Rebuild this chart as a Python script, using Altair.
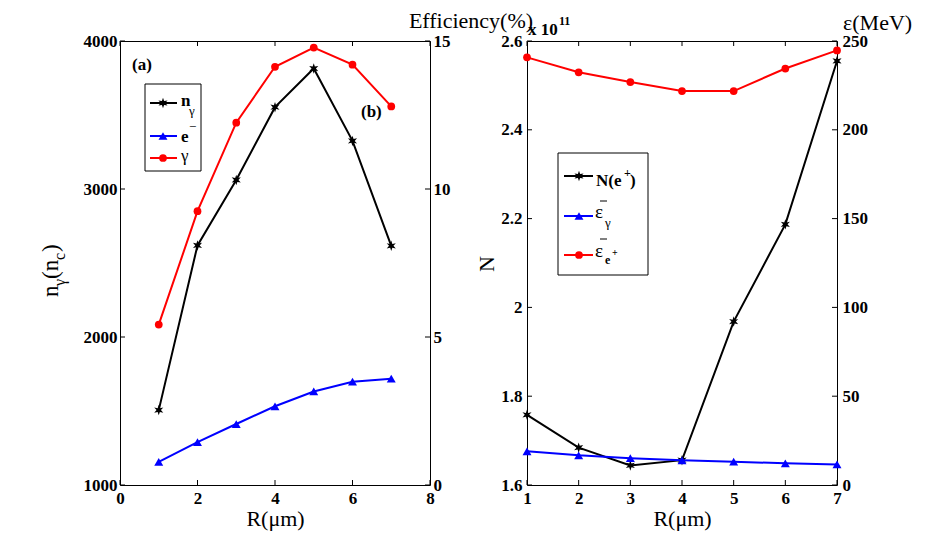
import math
import altair as alt
import pandas as pd

# ---------------- data ----------------
R = [1, 2, 3, 4, 5, 6, 7]
n_gamma = [1506, 2619, 3061, 3553, 3814, 3325, 2616]
eff_e = [0.78, 1.45, 2.06, 2.66, 3.16, 3.49, 3.59]
eff_g = [5.42, 9.25, 12.24, 14.13, 14.78, 14.20, 12.79]
N_pos = [1.758, 1.684, 1.644, 1.656, 1.968, 2.187, 2.555]
E_gamma = [19.0, 16.7, 15.1, 13.9, 13.1, 12.2, 11.6]
E_pos = [240.8, 232.4, 226.9, 221.8, 221.8, 234.5, 244.7]

xa_ticks = [0, 2, 4, 6, 8]
ya_left_ticks = [1000, 2000, 3000, 4000]
ya_right_ticks = [0, 5, 10, 15]
xb_ticks = [1, 2, 3, 4, 5, 6, 7]
yb_left_ticks = [1.6, 1.8, 2.0, 2.2, 2.4, 2.6]
yb_right_ticks = [0, 50, 100, 150, 200, 250]

# ---------------- style ----------------
W, H = 310, 444
FONT = "Liberation Serif"
ONE = alt.Data(values=[{}])

# six-pointed star marker path (filled)
_pts = []
for k in range(12):
    a = math.radians(-90 + 30 * k)
    r = 1.0 if k % 2 == 0 else 0.42
    _pts.append(f"{r * math.cos(a):.3f},{r * math.sin(a):.3f}")
STAR = "M" + "L".join(_pts) + "Z"


def lab_axis(orient, values, fmt, pad):
    return alt.Axis(orient=orient, values=values, format=fmt, title=None, ticks=False,
                    domain=False, grid=False, labelFont=FONT, labelFontWeight="bold",
                    labelFontSize=17, labelColor="black", labelPadding=pad,
                    labelFlush=False, labelOverlap=False, labelBound=False)


def x_axis(values):
    return alt.Axis(orient="bottom", values=values, format="d", title="R(μm)", ticks=False,
                    domain=False, grid=False, labelFont=FONT, labelFontWeight="bold",
                    labelFontSize=17, labelColor="black", labelPadding=5,
                    labelFlush=False, labelOverlap=False, labelBound=False,
                    titleFont=FONT, titleFontSize=22, titleFontWeight="normal",
                    titleColor="black", titlePadding=2)


MARK = {
    "star": dict(shape=STAR, filled=True, size=110, strokeWidth=0),
    "tri": dict(shape="triangle-up", filled=True, size=80, strokeWidth=0),
    "circ": dict(shape="circle", filled=True, size=60, strokeWidth=0),
}


def series(df, xfield, yfield, xscale, yscale, color, marker, xaxis, yaxis):
    line = alt.Chart(df).mark_line(color=color, strokeWidth=2).encode(
        x=alt.X(f"{xfield}:Q", scale=xscale, axis=xaxis),
        y=alt.Y(f"{yfield}:Q", scale=yscale, axis=yaxis),
    )
    pts = alt.Chart(df).mark_point(color=color, opacity=1, **MARK[marker]).encode(
        x=alt.X(f"{xfield}:Q", scale=xscale, axis=xaxis),
        y=alt.Y(f"{yfield}:Q", scale=yscale, axis=yaxis),
    )
    return [line, pts]


def xticks(ticks, xscale, xaxis):
    df = pd.DataFrame({"t": ticks})
    b = alt.Chart(df).mark_rule(color="black", strokeWidth=1).encode(
        x=alt.X("t:Q", scale=xscale, axis=xaxis), y=alt.value(H), y2=alt.value(H - 5))
    t = alt.Chart(df).mark_rule(color="black", strokeWidth=1).encode(
        x=alt.X("t:Q", scale=xscale, axis=xaxis), y=alt.value(0), y2=alt.value(5))
    return [b, t]


def yticks(ticks, yscale, yaxis, side):
    df = pd.DataFrame({"t": ticks})
    x0, x1 = (0, 5) if side == "left" else (W - 5, W)
    return alt.Chart(df).mark_rule(color="black", strokeWidth=1).encode(
        y=alt.Y("t:Q", scale=yscale, axis=yaxis), x=alt.value(x0), x2=alt.value(x1))


def txt(s, x, y, size=17, weight="normal", align="left", baseline="alphabetic", angle=0):
    return alt.Chart(ONE).mark_text(text=s, font=FONT, fontSize=size, fontWeight=weight,
                                    align=align, baseline=baseline, angle=angle,
                                    color="black").encode(x=alt.value(x), y=alt.value(y))


def seg(x0, x1, y, color, w=2):
    return alt.Chart(ONE).mark_rule(color=color, strokeWidth=w).encode(
        x=alt.value(x0), x2=alt.value(x1), y=alt.value(y))


def marker(x, y, color, kind):
    return alt.Chart(ONE).mark_point(color=color, opacity=1, **MARK[kind]).encode(
        x=alt.value(x), y=alt.value(y))


def box(x0, x1, y0, y1):
    return alt.Chart(ONE).mark_rect(fill="white", stroke="black", strokeWidth=1).encode(
        x=alt.value(x0), x2=alt.value(x1), y=alt.value(y0), y2=alt.value(y1))


# ---------------- panel (a) ----------------
dfA = pd.DataFrame({"R": R, "n": n_gamma, "e": eff_e, "g": eff_g})
xsA = alt.Scale(domain=[0, 8], nice=False, zero=False)
ysAL = alt.Scale(domain=[1000, 4000], nice=False, zero=False)
ysAR = alt.Scale(domain=[0, 15], nice=False, zero=False)
xaxA = x_axis(xa_ticks)
yaxAL = lab_axis("left", ya_left_ticks, "d", 3)
yaxAR = lab_axis("right", ya_right_ticks, "d", 3)

leftA = alt.layer(
    *series(dfA, "R", "n", xsA, ysAL, "black", "star", xaxA, yaxAL),
    *xticks(xa_ticks, xsA, xaxA),
    yticks(ya_left_ticks, ysAL, yaxAL, "left"),
    # legend
    box(25, 81, 43, 130),
    seg(30, 57, 62, "black"), marker(43, 62, "black", "star"),
    seg(30, 57, 95, "blue"), marker(43, 95, "blue", "tri"),
    seg(30, 57, 117, "red"), marker(43, 117, "red", "circ"),
    txt("n", 61, 65, 17, "bold"), txt("γ", 69, 74, 13),
    txt("e", 61, 101, 17, "bold"), txt("−", 69, 90, 13),
    txt("γ", 61, 120, 17),
    # labels
    txt("(a)", 12, 29, 17, "bold"),
    txt("(b)", 241, 76, 17, "bold"),
    # y title (rotated, with subscripts)
    txt("n", -62, 256, 23, angle=270), txt("γ", -55, 245, 16, angle=270),
    txt("(n", -62, 238, 23, angle=270), txt("c", -55, 219, 16, angle=270),
    txt(")", -62, 211, 23, angle=270),
    # right axis title
    txt("Efficiency(%)", 351, -13, 22, align="center"),
)
rightA = alt.layer(
    *series(dfA, "R", "e", xsA, ysAR, "blue", "tri", xaxA, yaxAR),
    *series(dfA, "R", "g", xsA, ysAR, "red", "circ", xaxA, yaxAR),
    yticks(ya_right_ticks, ysAR, yaxAR, "right"),
)
panelA = alt.layer(leftA, rightA).resolve_scale(y="independent").properties(width=W, height=H)

# ---------------- panel (b) ----------------
dfB = pd.DataFrame({"R": R, "N": N_pos, "eg": E_gamma, "ep": E_pos})
xsB = alt.Scale(domain=[1, 7], nice=False, zero=False)
ysBL = alt.Scale(domain=[1.6, 2.6], nice=False, zero=False)
ysBR = alt.Scale(domain=[0, 250], nice=False, zero=False)
xaxB = x_axis(xb_ticks)
yaxBL = lab_axis("left", yb_left_ticks, "~g", 5)
yaxBR = lab_axis("right", yb_right_ticks, "d", 5)

leftB = alt.layer(
    *series(dfB, "R", "N", xsB, ysBL, "black", "star", xaxB, yaxBL),
    *xticks(xb_ticks, xsB, xaxB),
    yticks(yb_left_ticks, ysBL, yaxBL, "left"),
    # legend
    box(31, 121, 112, 234),
    seg(37, 66, 135, "black"), marker(52, 135, "black", "star"),
    seg(37, 66, 175, "blue"), marker(52, 175, "blue", "tri"),
    seg(37, 66, 214, "red"), marker(52, 214, "red", "circ"),
    txt("N(e", 69, 145, 17, "bold"), txt("+", 97, 136, 12, "bold"), txt(")", 103, 145, 17, "bold"),
    txt("ε", 68, 177, 19), seg(73, 80, 160, "black", 1), txt("γ", 78, 186, 13),
    txt("ε", 68, 216, 19), seg(73, 80, 198, "black", 1), txt("e", 78, 223, 12, "bold"),
    txt("+", 85, 215, 10, "bold"),
    # y title and multiplier
    txt("N", -40, 223, 22, align="center", baseline="middle", angle=270),
    txt("x 10", 1, -6, 17, "bold"), txt("11", 32, -16, 12, "bold"),
    # right axis title
    txt("ε(MeV)", 316, -11, 22), seg(318, 325, -34, "black", 1),
)
rightB = alt.layer(
    *series(dfB, "R", "eg", xsB, ysBR, "blue", "tri", xaxB, yaxBR),
    *series(dfB, "R", "ep", xsB, ysBR, "red", "circ", xaxB, yaxBR),
    yticks(yb_right_ticks, ysBR, yaxBR, "right"),
)
panelB = alt.layer(leftB, rightB).resolve_scale(y="independent").properties(width=W, height=H)

chart = (
    alt.hconcat(panelA, panelB, spacing=97, bounds="flush")
    .properties(padding={"left": 31, "top": -2, "right": 5, "bottom": 5}, background="white")
    .configure_view(stroke="black", strokeWidth=1)
)

chart.save("out.html", embed_options={"renderer": "svg", "actions": False})
